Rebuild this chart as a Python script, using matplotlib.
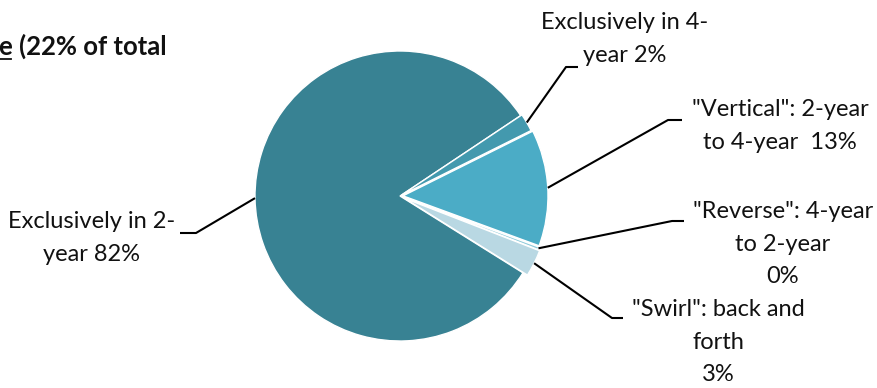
import numpy as np
import matplotlib
matplotlib.use("Agg")
import matplotlib.pyplot as plt

# Share of transfer students by enrollment pattern
categories = [
    "Exclusively in 2-\nyear 82%",
    "Exclusively in 4-\nyear 2%",
    "\"Vertical\": 2-year\nto 4-year  13%",
    "\"Reverse\": 4-year\nto 2-year\n0%",
    "\"Swirl\": back and\nforth\n3%",
]
shares = [82, 2, 13, 0.3, 3]
colors = ["#388293", "#4399AE", "#4BACC6", "#8FCADA", "#B9D8E3"]

W, H = 878, 388
fig = plt.figure(figsize=(W / 100, H / 100), dpi=100)
ax = fig.add_axes([0, 0, 1, 1])
ax.set_xlim(0, W)
ax.set_ylim(0, H)
ax.set_aspect("equal")
ax.axis("off")

cx, cy, R = 400, 192, 145
# wedge offsets in data (pixel) units
offsets = [0, 1.5, 3, 3, 5]
wedges, _ = ax.pie(
    shares, colors=colors, startangle=-32, counterclock=False,
    center=(cx, cy), radius=R, explode=offsets, normalize=True,
    wedgeprops=dict(edgecolor="white", linewidth=1.0),
)
ax.set_xlim(0, W)
ax.set_ylim(0, H)

font = "Lato"
fs = 17

# label anchor (text centre, top y) and elbow of each leader line
label_pos = [(92, 177), (625, 376), (780, 289), (783, 187), (718, 89)]
elbows = [((196, 155), (180, 155)),
          ((566, 321), (578, 321)),
          ((668, 268), (682, 268)),
          ((672, 167), (684, 167)),
          ((612, 70), (623, 70))]

for w, text, (tx, ty), (e1, e2) in zip(wedges, categories, label_pos, elbows):
    mid = np.deg2rad((w.theta1 + w.theta2) / 2)
    wx, wy = w.center
    sx = wx + w.r * np.cos(mid)
    sy = wy + w.r * np.sin(mid)
    ax.plot([sx, e1[0], e2[0]], [sy, e1[1], e2[1]], color="black", lw=1.5,
            solid_capstyle="butt", zorder=3)
    ax.text(tx, ty, text, ha="center", va="top", fontsize=fs, family=font,
            color="#111111", linespacing=1.68)

# partially visible chart title on the left
ax.text(-1, 342, "e (22% of total", ha="left", va="center", fontsize=18.5,
        family=font, fontweight="bold", color="#111111")
ax.plot([0, 11], [329, 329], color="#111111", lw=1.3)

fig.savefig("out.png", dpi=100)
